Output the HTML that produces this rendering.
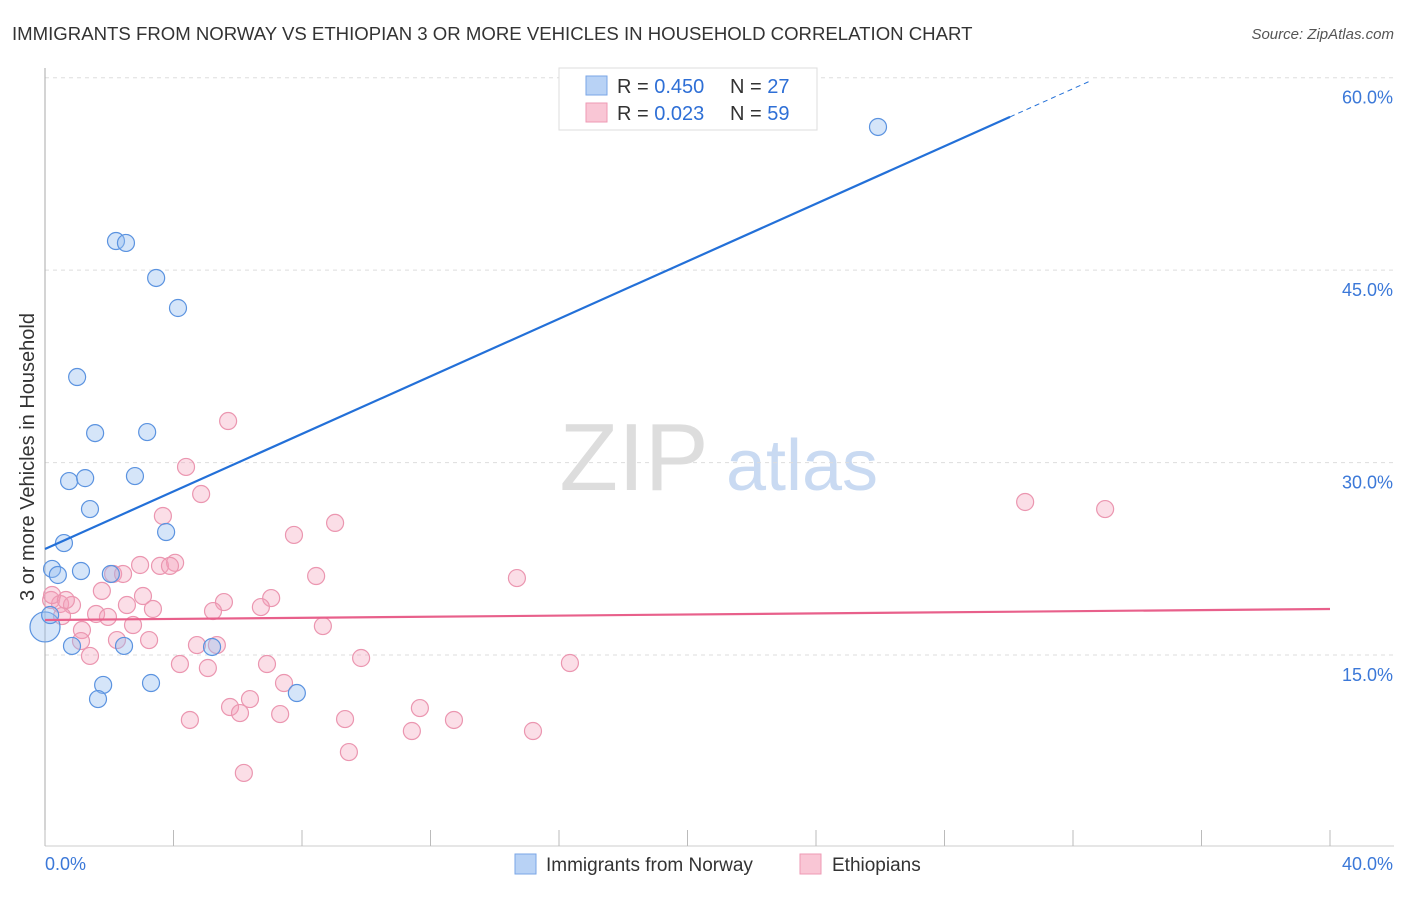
<!DOCTYPE html>
<html><head><meta charset="utf-8"><style>
body{margin:0;background:#fff;font-family:"Liberation Sans",sans-serif;}
svg text{font-family:"Liberation Sans",sans-serif;}
</style></head><body>
<svg id="chart" width="1406" height="892" xmlns="http://www.w3.org/2000/svg">
<text x="12" y="40" font-size="18.6" fill="#333">IMMIGRANTS FROM NORWAY VS ETHIOPIAN 3 OR MORE VEHICLES IN HOUSEHOLD CORRELATION CHART</text>
<text x="1394" y="39" font-size="15" fill="#555" font-style="italic" text-anchor="end">Source: ZipAtlas.com</text>
<text x="34" y="457" font-size="20" fill="#333" text-anchor="middle" transform="rotate(-90 34 457)">3 or more Vehicles in Household</text>
<g><text x="634" y="490" font-size="96" fill="#ddd" font-family="Liberation Serif" text-anchor="middle">ZIP</text><text x="802" y="490" font-size="72" fill="#c9daf2" text-anchor="middle">atlas</text></g>
<g id="grid"></g><g id="marks"></g>
<g>
<rect x="559" y="68" width="258" height="62" fill="#fff" stroke="#ddd"/>
<rect x="586" y="76" width="21" height="19" fill="#b8d2f5" stroke="#7aa6e6"/>
<rect x="586" y="103" width="21" height="19" fill="#f9c6d5" stroke="#ee9ab4"/>
<text x="617" y="93" font-size="20" fill="#333">R = <tspan fill="#2e6fd6">0.450</tspan><tspan x="730">N = </tspan><tspan fill="#2e6fd6">27</tspan></text>
<text x="617" y="120" font-size="20" fill="#333">R = <tspan fill="#2e6fd6"> 0.023</tspan><tspan x="730">N = </tspan><tspan fill="#2e6fd6">59</tspan></text>
</g>
<g>
<rect x="515" y="854" width="21" height="20" fill="#b8d2f5" stroke="#7aa6e6"/>
<text x="546" y="871" font-size="19" fill="#333">Immigrants from Norway</text>
<rect x="800" y="854" width="21" height="20" fill="#f9c6d5" stroke="#ee9ab4"/>
<text x="832" y="871" font-size="19" fill="#333">Ethiopians</text>
</g>
</svg>
<script>
const yTicks=[15,30,45,60];
const yTickLabels=["15.0%","30.0%","45.0%","60.0%"];
const xTickLabels=["0.0%","40.0%"];
const norwayX=[25.93,2.21,2.52,3.46,4.14,1.00,1.56,3.18,0.75,1.25,2.80,1.40,3.77,0.59,0.22,0.40,1.12,2.05,0.84,2.46,5.20,1.81,3.30,1.65,7.84,0.00,0.16];
const norwayY=[56.16,47.27,47.12,44.39,42.05,36.67,32.30,32.38,28.56,28.79,28.95,26.38,24.59,23.73,21.71,21.24,21.55,21.32,15.71,15.71,15.63,12.67,12.82,11.57,12.04,17.19,18.12];
const ethX=[5.70,4.39,4.86,3.67,7.75,9.03,30.51,33.00,2.96,2.12,2.43,3.58,4.05,3.89,14.69,8.44,1.77,3.05,5.57,7.04,2.55,3.36,5.23,6.72,0.19,0.47,0.84,1.59,1.96,0.53,1.15,2.74,8.65,2.24,3.24,4.73,5.35,1.12,1.40,4.20,5.07,6.91,9.84,16.34,7.44,6.38,5.76,6.07,4.51,7.32,9.34,11.67,11.42,12.73,15.19,9.46,6.19,0.22,0.65];
const ethY=[33.24,29.66,27.55,25.84,24.36,25.30,26.93,26.38,22.02,21.32,21.32,21.95,22.19,21.95,21.00,21.16,20.00,19.60,19.13,19.44,18.90,18.59,18.43,18.74,19.29,18.98,18.90,18.20,17.97,18.04,16.95,17.34,17.26,16.17,16.17,15.78,15.78,16.09,14.93,14.30,13.99,14.30,14.77,14.38,12.82,11.57,10.95,10.48,9.94,10.40,10.01,10.87,9.08,9.94,9.08,7.44,5.81,19.68,19.29];
const norwayTrend=[23.27,1.121];
const ethTrend=[17.73,0.0215];
const NS="http://www.w3.org/2000/svg";
const sx=v=>45+v*32.125, sy=v=>847.5-v*12.83;
function mk(tag,at,parent){const e=document.createElementNS(NS,tag);for(const k in at)e.setAttribute(k,at[k]);parent.appendChild(e);return e;}
const grid=document.getElementById('grid'),marks=document.getElementById('marks');
yTicks.forEach((t,i)=>{
 const l=mk('line',{x1:45,x2:1394,y1:sy(t),y2:sy(t),stroke:'#ddd','stroke-dasharray':'4,4'},grid);
 
 
 const tx=mk('text',{x:1393,y:sy(t)+26,'font-size':18,fill:'#3b78d8','text-anchor':'end'},grid);tx.textContent=yTickLabels[i];
 
 
});
const ax=mk('line',{x1:45,x2:45,y1:68,y2:846,stroke:'#aaa'},grid);


const bx=mk('line',{x1:45,x2:1394,y1:846,y2:846,stroke:'#ccc'},grid);


for(let i=0;i<=10;i++){const t=mk('line',{x1:sx(i*4),x2:sx(i*4),y1:830,y2:846,stroke:'#bbb'},grid);
 
 }
const xl0=mk('text',{x:45,y:870,'font-size':18,fill:'#3b78d8'},grid);xl0.textContent=xTickLabels[0];


const xl1=mk('text',{x:1393,y:870,'font-size':18,fill:'#3b78d8','text-anchor':'end'},grid);xl1.textContent=xTickLabels[1];


ethX.forEach((x,i)=>{const c=mk('circle',{cx:sx(x),cy:sy(ethY[i]),r:8.5,fill:'rgba(244,160,186,0.35)',stroke:'#eb96b0','stroke-width':1.2},marks);
 
 });
norwayX.forEach((x,i)=>{const big=i===25;const c=mk('circle',{cx:sx(x),cy:sy(norwayY[i]),r:big?15:8.5,fill:'rgba(150,190,240,0.4)',stroke:'#5b93e0','stroke-width':1.2},marks);
 
 });
const tl=mk('line',{x1:sx(0),y1:sy(norwayTrend[0]),x2:sx(30.04),y2:sy(norwayTrend[0]+norwayTrend[1]*30.04),stroke:'#2370d8','stroke-width':2.2},marks);


const td=mk('line',{x1:sx(30.04),y1:sy(norwayTrend[0]+norwayTrend[1]*30.04),x2:sx(32.5),y2:sy(norwayTrend[0]+norwayTrend[1]*32.5),stroke:'#2370d8','stroke-width':1,'stroke-dasharray':'5,4'},marks);


const pl=mk('line',{x1:sx(0),y1:sy(ethTrend[0]),x2:sx(40),y2:sy(ethTrend[0]+ethTrend[1]*40),stroke:'#e8608b','stroke-width':2.2},marks);


</script>
</body></html>
